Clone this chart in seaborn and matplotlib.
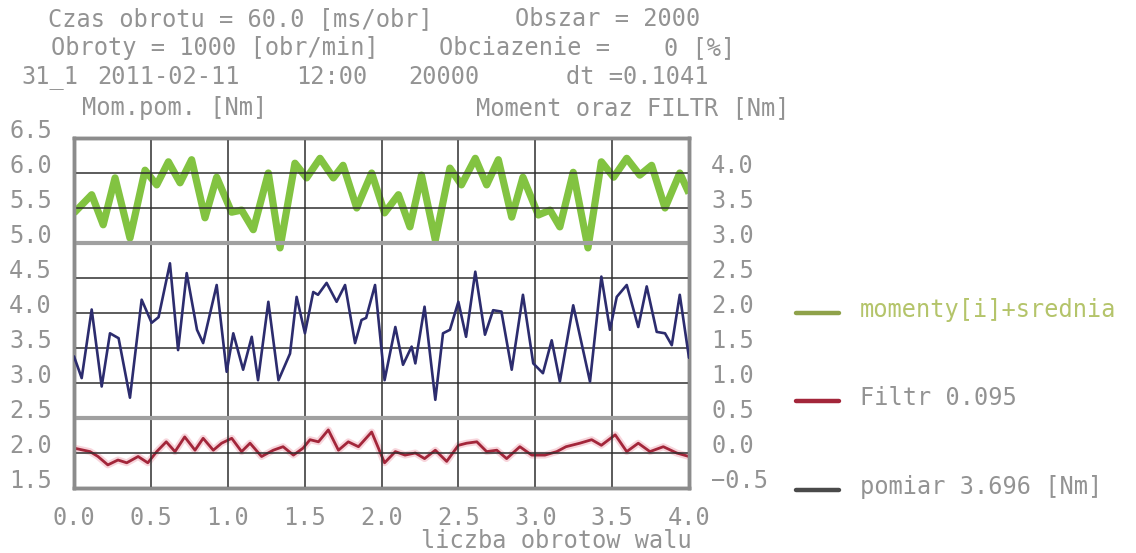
import matplotlib
matplotlib.use("Agg")
import matplotlib.pyplot as plt
from matplotlib.lines import Line2D
import seaborn as sns
import pandas as pd

# ---------------- data ----------------
x_green = [0.0, 0.115, 0.19, 0.267, 0.364, 0.462, 0.538, 0.614, 0.69, 0.765,
           0.852, 0.928, 1.025, 1.09, 1.166, 1.264, 1.34, 1.437, 1.513, 1.6,
           1.687, 1.75, 1.839, 1.936, 2.02, 2.11, 2.185, 2.26, 2.35, 2.445,
           2.52, 2.61, 2.684, 2.76, 2.847, 2.92, 3.02, 3.096, 3.16, 3.247,
           3.343, 3.43, 3.51, 3.595, 3.68, 3.757, 3.844, 3.94, 4.0]
green_right = [3.43, 3.69, 3.26, 3.93, 3.07, 4.04, 3.83, 4.16, 3.86, 4.19,
               3.36, 3.94, 3.44, 3.47, 3.19, 4.00, 2.93, 4.14, 3.93, 4.21,
               3.93, 4.11, 3.50, 4.00, 3.43, 3.69, 3.23, 3.97, 3.04, 4.07,
               3.83, 4.21, 3.83, 4.19, 3.37, 3.94, 3.40, 3.47, 3.23, 4.01,
               2.93, 4.16, 3.94, 4.21, 3.97, 4.11, 3.50, 4.00, 3.71]

x_blue = [0.0, 0.05, 0.115, 0.18, 0.234, 0.29, 0.364, 0.44, 0.505, 0.55,
          0.624, 0.677, 0.733, 0.80, 0.84, 0.928, 0.993, 1.036, 1.1, 1.156,
          1.197, 1.264, 1.33, 1.405, 1.448, 1.502, 1.556, 1.587, 1.643, 1.708,
          1.763, 1.828, 1.87, 1.9, 1.958, 2.02, 2.09, 2.14, 2.196, 2.22,
          2.28, 2.35, 2.4, 2.445, 2.5, 2.55, 2.61, 2.673, 2.726, 2.78,
          2.847, 2.92, 2.987, 3.05, 3.107, 3.16, 3.247, 3.356, 3.43, 3.486,
          3.53, 3.595, 3.67, 3.725, 3.79, 3.844, 3.888, 3.94, 4.0]
blue_left = [3.38, 3.07, 4.05, 2.95, 3.71, 3.64, 2.79, 4.19, 3.86, 3.94,
             4.71, 3.47, 4.57, 3.76, 3.57, 4.40, 3.16, 3.71, 3.19, 3.66,
             3.04, 4.16, 3.04, 3.42, 4.23, 3.71, 4.30, 4.26, 4.43, 4.16,
             4.40, 3.57, 3.90, 3.93, 4.40, 3.04, 3.80, 3.26, 3.52, 3.28,
             4.09, 2.76, 3.71, 3.76, 4.16, 3.66, 4.59, 3.69, 4.04, 4.02,
             3.19, 4.26, 3.28, 3.14, 3.61, 3.02, 4.11, 3.02, 4.52, 3.76,
             4.23, 4.40, 3.80, 4.38, 3.73, 3.71, 3.54, 4.26, 3.36]

x_red = [0.0, 0.104, 0.156, 0.22, 0.286, 0.343, 0.417, 0.48, 0.538, 0.6,
         0.657, 0.72, 0.787, 0.84, 0.906, 0.96, 1.026, 1.09, 1.145, 1.22,
         1.296, 1.36, 1.427, 1.49, 1.535, 1.59, 1.654, 1.72, 1.784, 1.85,
         1.936, 2.02, 2.09, 2.153, 2.22, 2.28, 2.35, 2.424, 2.5, 2.554,
         2.62, 2.684, 2.75, 2.814, 2.9, 2.977, 3.063, 3.14, 3.2, 3.29,
         3.367, 3.43, 3.52, 3.595, 3.67, 3.746, 3.833, 3.92, 4.0]
red_right = [0.07, 0.02, -0.05, -0.17, -0.10, -0.14, -0.05, -0.14, 0.02, 0.16,
             0.02, 0.23, 0.04, 0.21, 0.04, 0.14, 0.21, 0.02, 0.14, -0.05,
             0.04, 0.09, -0.03, 0.07, 0.19, 0.16, 0.33, 0.04, 0.16, 0.09,
             0.30, -0.14, 0.02, -0.03, 0.00, -0.08, 0.04, -0.12, 0.11, 0.14,
             0.16, 0.02, 0.04, -0.08, 0.09, -0.03, -0.03, 0.02, 0.09, 0.14,
             0.19, 0.11, 0.26, 0.02, 0.14, 0.02, 0.09, 0.00, -0.05]

x_ticks = [0.0, 0.5, 1.0, 1.5, 2.0, 2.5, 3.0, 3.5, 4.0]
left_ticks = [1.5, 2.0, 2.5, 3.0, 3.5, 4.0, 4.5, 5.0, 5.5, 6.0, 6.5]
right_ticks = [-0.5, 0.0, 0.5, 1.0, 1.5, 2.0, 2.5, 3.0, 3.5, 4.0]

# header text pieces: (text, left x px, line y px)
header_pieces = [
    ("Czas obrotu = 60.0 [ms/obr]", 48, 19),
    ("Obszar = 2000", 515, 19),
    ("Obroty = 1000 [obr/min]", 51, 48),
    ("Obciazenie =", 439, 48),
    ("0 [%]", 664, 48),
    ("31_1", 21, 77),
    ("2011-02-11", 97, 77),
    ("12:00", 296, 77),
    ("20000", 408, 77),
    ("dt =0.1041", 566, 77),
]
left_title = "Mom.pom. [Nm]"
right_title = "Moment oraz FILTR [Nm]"
x_title = "liczba obrotow walu"
legend_labels = ["momenty[i]+srednia", "Filtr 0.095", "pomiar 3.696 [Nm]"]

# ---------------- style ----------------
sns.set_style("white")
plt.rcParams["font.family"] = ["DejaVu Sans Mono", "DejaVu Sans"]
TXT = "#939393"
FS = 17

W, H = 1136, 553
fig = plt.figure(figsize=(W / 100, H / 100), dpi=100)
L, R, T, B = 74, 689, 138, 488
ax = fig.add_axes([L / W, 1 - B / H, (R - L) / W, (B - T) / H])
ax2 = ax.twinx()

GREEN = "#82c341"
BLUE = "#2c2c6e"
RED = "#a3263a"

df_b = pd.DataFrame({"x": x_blue, "y": blue_left})
df_g = pd.DataFrame({"x": x_green, "y": green_right})
df_r = pd.DataFrame({"x": x_red, "y": red_right})

sns.lineplot(data=df_b, x="x", y="y", ax=ax, color=BLUE, lw=1.9,
             solid_joinstyle="round", zorder=5)
sns.lineplot(data=df_g, x="x", y="y", ax=ax2, color=GREEN, lw=5.2,
             solid_joinstyle="round", solid_capstyle="butt", zorder=5)
sns.lineplot(data=df_r, x="x", y="y", ax=ax2, color="#f3b9c4", lw=5,
             solid_joinstyle="round", alpha=0.6, zorder=4)
sns.lineplot(data=df_r, x="x", y="y", ax=ax2, color=RED, lw=2.0,
             solid_joinstyle="round", zorder=5)

ax.set_xlim(0, 4)
ax.set_ylim(1.5, 6.5)
ax2.set_ylim(-0.5, 4.5)

ax.set_xticks(x_ticks)
ax.set_xticklabels([f"{v:.1f}" for v in x_ticks])
ax.set_yticks(left_ticks)
ax.set_yticklabels([f"{v:.1f}" for v in left_ticks])
ax2.set_yticks(right_ticks)
ax2.set_yticklabels([f"{v:.1f}".replace("-", "\u2212") for v in right_ticks])

ax.tick_params(axis="both", length=0, labelsize=FS, labelcolor=TXT)
ax.tick_params(axis="x", pad=13)
ax.tick_params(axis="y", pad=16)
ax2.tick_params(axis="y", length=0, labelsize=FS, labelcolor=TXT, pad=16)
for lab in ax.get_yticklabels() + ax2.get_yticklabels():
    lab.set_verticalalignment("baseline")

ax.set_xlabel("")
ax.set_ylabel("")
ax2.set_ylabel("")

# grid
ax.grid(True, color="#2f2f2f", lw=1.1)
ax.axhline(5.0, color="#a0a0a0", lw=3, zorder=2)
ax.axhline(2.5, color="#a0a0a0", lw=3, zorder=2)
ax.set_axisbelow(True)
ax2.grid(False)
ax.set_zorder(ax2.get_zorder() + 1)
ax.patch.set_visible(False)

for a in (ax, ax2):
    for s in a.spines.values():
        s.set_color("#8c8c8c")
        s.set_linewidth(2.5)

# texts
for t, x, y in header_pieces:
    fig.text(x / W, 1 - y / H, t, ha="left", va="center", fontsize=FS, color=TXT)
fig.text(82 / W, 1 - 108 / H, left_title, ha="left", va="center", fontsize=FS, color=TXT)
fig.text(790 / W, 1 - 108 / H, right_title, ha="right", va="center", fontsize=FS, color=TXT)
fig.text(692 / W, 1 - 541 / H, x_title, ha="right", va="center", fontsize=FS, color=TXT)

# legend
leg_y = [313, 401, 490]
leg_c = ["#8fa24a", RED, "#4a4a4a"]
leg_tc = ["#b4c46a", TXT, TXT]
for lab, y, c, tc in zip(legend_labels, leg_y, leg_c, leg_tc):
    fig.add_artist(Line2D([796 / W, 839 / W], [1 - y / H, 1 - y / H], color=c, lw=3.2,
                          transform=fig.transFigure))
    fig.text(860 / W, 1 - (y - 3) / H, lab, ha="left", va="center", fontsize=FS, color=tc)

fig.savefig("out.png", dpi=100)
